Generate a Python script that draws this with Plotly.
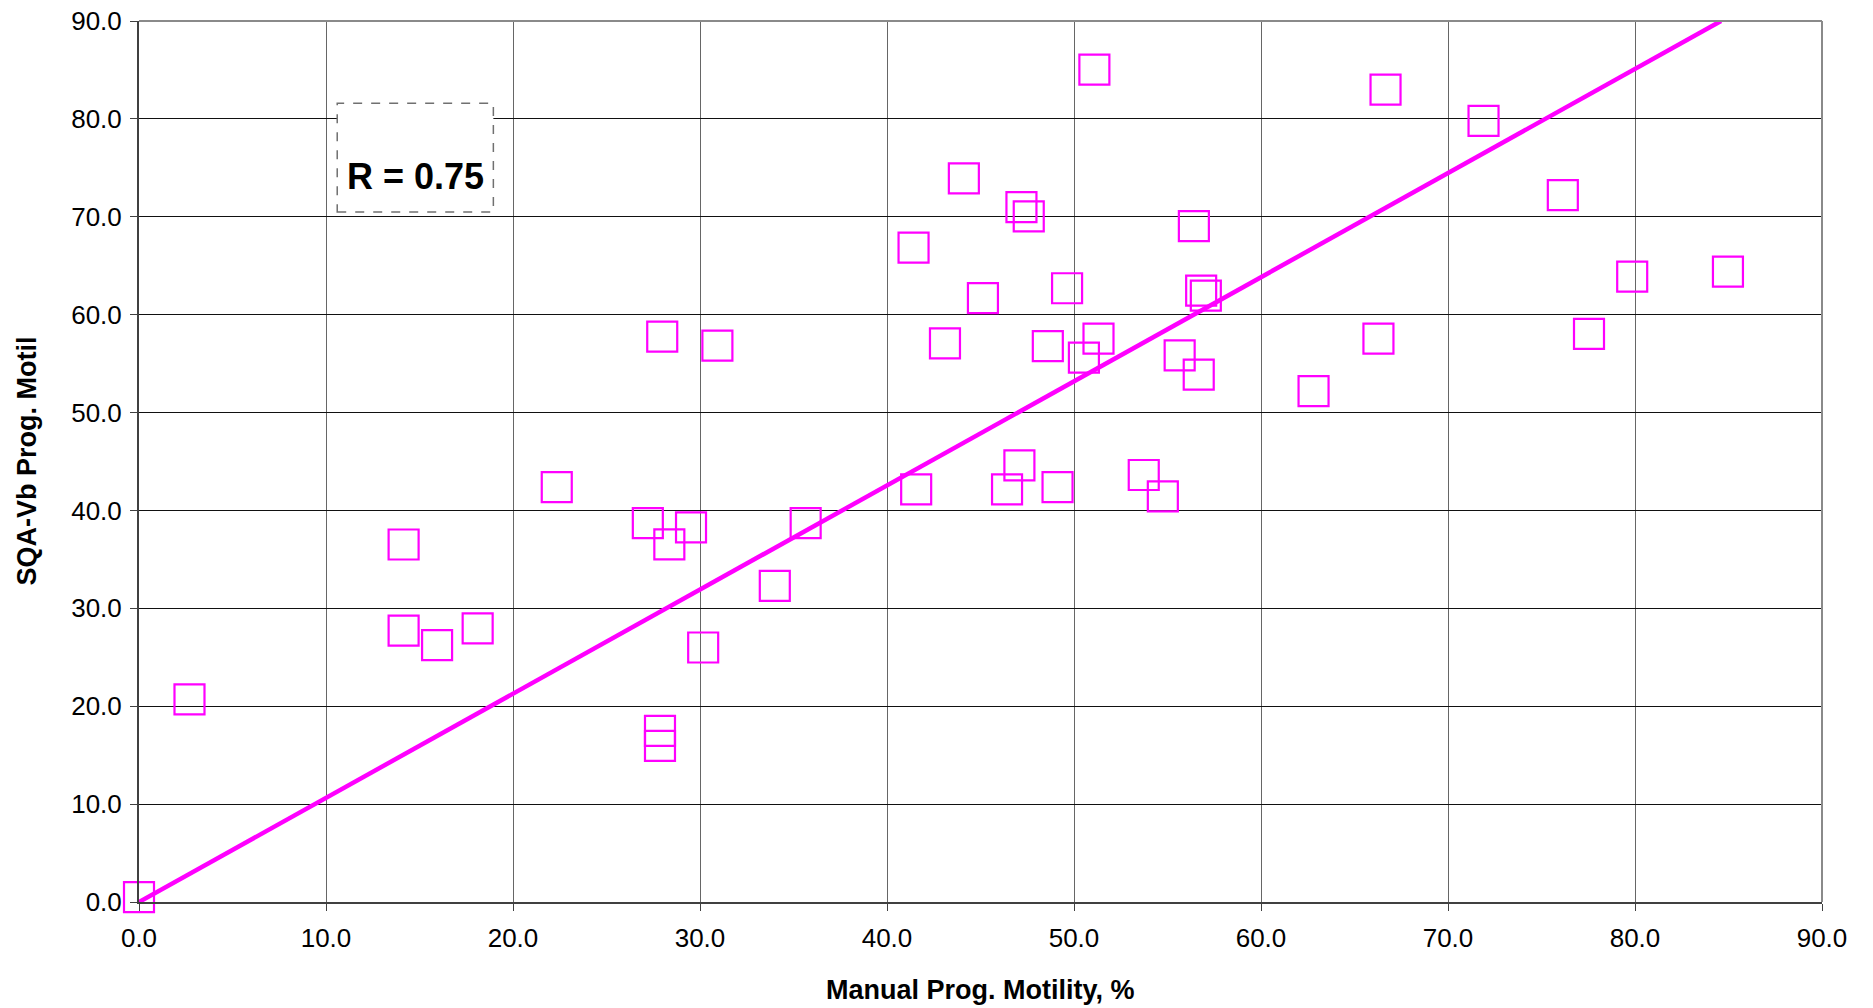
import plotly.graph_objects as go

# Manual progressive motility (%) vs SQA-Vb progressive motility
manual_prog = [0.0, 2.7, 14.15, 14.15, 15.94, 18.11, 22.34, 27.21, 28.36, 29.52,
               27.98, 30.93, 27.86, 27.86, 30.17, 34.0, 35.65, 41.42, 41.56, 43.10,
               44.11, 45.13, 46.42, 47.08, 47.19, 47.58, 48.60, 49.12, 49.63, 50.53,
               51.09, 51.31, 53.73, 54.75, 55.65, 56.41, 56.67, 56.80, 57.05, 62.81,
               66.28, 66.66, 71.90, 76.14, 77.54, 79.85, 84.97]
sqa_prog = [0.5, 20.7, 36.52, 27.72, 26.24, 27.96, 42.39, 38.70, 36.54, 38.27,
            57.76, 56.83, 17.49, 15.95, 26.0, 32.3, 38.71, 66.84, 42.16, 57.07,
            73.92, 61.70, 42.16, 44.61, 70.99, 70.04, 56.79, 42.39, 62.70, 55.61,
            85.03, 57.55, 43.62, 41.44, 55.84, 69.04, 53.87, 62.45, 61.95, 52.18,
            57.55, 82.98, 79.80, 72.22, 58.04, 63.89, 64.39]

# Regression line end points
fit_x = [0.0, 84.6]
fit_y = [0.0, 90.0]

tick_vals = [0, 10, 20, 30, 40, 50, 60, 70, 80, 90]
r_label = "R = 0.75"
x_title = "Manual Prog. Motility, %"
y_title = "SQA-Vb Prog. Motil"

MAG = "#FF00FF"
FONT = "Liberation Sans, Arial, sans-serif"

fig = go.Figure()
fig.add_trace(go.Scatter(
    x=fit_x, y=fit_y, mode="lines",
    line=dict(color=MAG, width=4.5), cliponaxis=False, showlegend=False,
    hoverinfo="skip"))
fig.add_trace(go.Scatter(
    x=manual_prog, y=sqa_prog, mode="markers",
    marker=dict(symbol="square-open", size=30, color=MAG,
                line=dict(color=MAG, width=2.2)),
    cliponaxis=False, showlegend=False))

axis_common = dict(
    range=[0, 90], tickvals=tick_vals, tickformat=".1f",
    showline=True, linecolor="#404040", linewidth=2,
    ticks="outside", ticklen=7, tickwidth=1, tickcolor="#404040",
    tickfont=dict(family=FONT, size=26, color="#000000"),
    zeroline=False, showgrid=True, gridwidth=1, automargin=False,
)

fig.update_xaxes(**axis_common, gridcolor="#666666", ticklabelstandoff=5)
fig.update_yaxes(**axis_common, gridcolor="#111111", ticklabelstandoff=3)

# top and right frame lines (gray)
fig.add_shape(type="line", xref="paper", yref="paper", x0=0, x1=1, y0=1, y1=1,
              line=dict(color="#8a8a8a", width=2), layer="above")
fig.add_shape(type="line", xref="paper", yref="paper", x0=1, x1=1, y0=0, y1=1,
              line=dict(color="#8a8a8a", width=2), layer="above")

# R box
fig.add_shape(type="rect", xref="x", yref="y", x0=10.6, x1=18.95, y0=70.5, y1=81.6,
              line=dict(color="#707070", width=1.5, dash="dash"),
              fillcolor="white", layer="above")
fig.add_annotation(x=14.78, y=74.1, xref="x", yref="y", text="<b>" + r_label + "</b>",
                   showarrow=False, font=dict(family=FONT, size=36, color="#000000"),
                   xanchor="center", yanchor="middle")

fig.add_annotation(x=0.5, y=-0.0999, xref="paper", yref="paper", text="<b>" + x_title + "</b>",
                   showarrow=False, font=dict(family=FONT, size=27, color="#000000"),
                   xanchor="center", yanchor="middle")
fig.add_annotation(x=-0.0671, y=0.5, xref="paper", yref="paper", text="<b>" + y_title + "</b>",
                   showarrow=False, textangle=-90, font=dict(family=FONT, size=27, color="#000000"),
                   xanchor="center", yanchor="middle")

fig.update_layout(
    width=1873, height=1008,
    margin=dict(l=139, r=51, t=21, b=106),
    paper_bgcolor="white", plot_bgcolor="white",
    showlegend=False,
)

fig.write_html("out.html")
